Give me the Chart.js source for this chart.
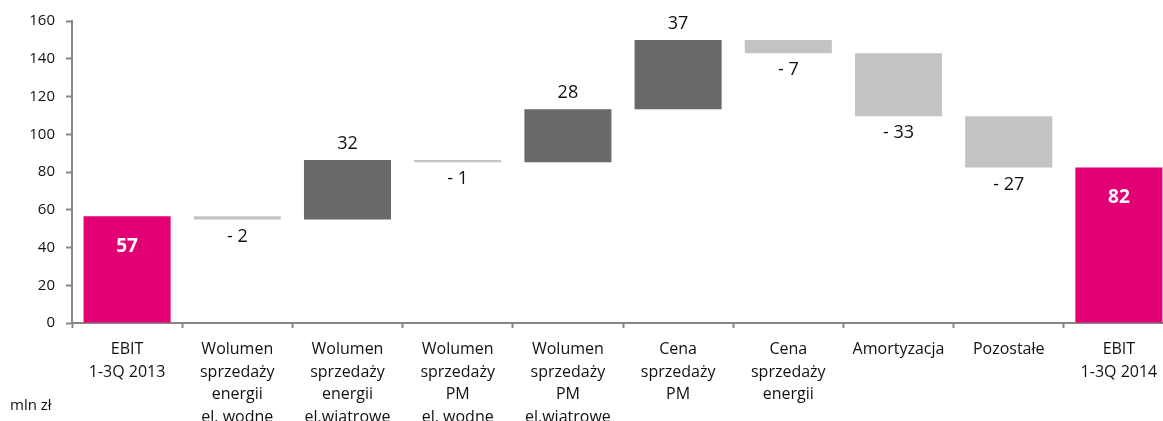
<!DOCTYPE html>
<html>
<head>
<meta charset="utf-8">
<script src="https://cdn.jsdelivr.net/npm/chart.js@4"></script>
<style>
  html, body { margin: 0; padding: 0; background: #fff; overflow: hidden; }
  #wrap { position: relative; width: 1163px; height: 421px; overflow: hidden; }
  #unit { position: absolute; left: 10px; top: 394px; font: 15px "Open Sans", sans-serif; color: #111; }
</style>
</head>
<body>
<div id="wrap">
  <canvas id="chart" width="1174" height="421"></canvas>
  <div id="unit">mln zł</div>
</div>
<script>
// ── DATA ──
const categories = [
  ['EBIT', '1-3Q 2013'],
  ['Wolumen', 'sprzedaży', 'energii', 'el. wodne'],
  ['Wolumen', 'sprzedaży', 'energii', 'el.wiatrowe'],
  ['Wolumen', 'sprzedaży', 'PM', 'el. wodne'],
  ['Wolumen', 'sprzedaży', 'PM', 'el.wiatrowe'],
  ['Cena', 'sprzedaży', 'PM'],
  ['Cena', 'sprzedaży', 'energii'],
  'Amortyzacja',
  'Pozostałe',
  ['EBIT', '1-3Q 2014']
];
// first and last are totals, the rest are changes
const deltas      = [56.6, -1.8, 31.5, -1.1, 28.0, 36.7, -7.0, -33.3, -27.2, 82.4];
const isTotal     = [true, false, false, false, false, false, false, false, false, true];
const valueLabels = ['57', '- 2', '32', '- 1', '28', '37', '- 7', '- 33', '- 27', '82'];
const yTicks      = [0, 20, 40, 60, 80, 100, 120, 140, 160];

const colors = {
  total: '#E20074',
  up:    '#696969',
  down:  '#C3C3C3',
  axis:  '#878787',
  text:  '#111111'
};
const FONT = '"Open Sans", sans-serif';

// build floating bars [low, high]
let level = 0;
const ranges = deltas.map((d, i) => {
  if (isTotal[i]) { level = d; return [0, d]; }
  const from = level;
  level += d;
  return [Math.min(from, level), Math.max(from, level)];
});
const barColors = deltas.map((d, i) => isTotal[i] ? colors.total : (d >= 0 ? colors.up : colors.down));

// ── VALUE LABELS ──
const valueLabelPlugin = {
  id: 'valueLabels',
  afterDatasetsDraw(chart) {
    const ctx = chart.ctx;
    const meta = chart.getDatasetMeta(0);
    ctx.save();
    ctx.textAlign = 'center';
    ctx.textBaseline = 'middle';
    meta.data.forEach((bar, i) => {
      const top = Math.min(bar.y, bar.base);
      const bottom = Math.max(bar.y, bar.base);
      if (isTotal[i]) {
        ctx.font = 'bold 19px ' + FONT;
        ctx.fillStyle = '#fff';
        ctx.fillText(valueLabels[i], bar.x, top + 30);
      } else if (deltas[i] >= 0) {
        ctx.font = '18px ' + FONT;
        ctx.fillStyle = colors.text;
        ctx.fillText(valueLabels[i], bar.x, top - 16);
      } else {
        ctx.font = '18px ' + FONT;
        ctx.fillStyle = colors.text;
        ctx.fillText(valueLabels[i], bar.x, bottom + 17);
      }
    });
    ctx.restore();
  }
};

new Chart(document.getElementById('chart'), {
  type: 'bar',
  data: {
    labels: categories,
    datasets: [{
      data: ranges,
      backgroundColor: barColors,
      borderWidth: 0,
      barPercentage: 0.79,
      categoryPercentage: 1
    }]
  },
  options: {
    responsive: false,
    animation: false,
    layout: { padding: { top: 21, right: 0, bottom: 0, left: 0 } },
    plugins: {
      legend: { display: false },
      tooltip: { enabled: false }
    },
    scales: {
      x: {
        offset: true,
        grid: {
          display: true,
          offset: true,
          drawOnChartArea: false,
          drawTicks: true,
          tickLength: 5,
          tickWidth: 2,
          tickColor: colors.axis
        },
        border: { color: colors.axis, width: 2 },
        ticks: {
          color: colors.text,
          padding: 10,
          maxRotation: 0,
          autoSkip: false,
          font: { family: FONT, size: 16, lineHeight: 1.42 }
        },
        afterFit: (s) => { s.height = 98; }
      },
      y: {
        min: 0,
        max: 160,
        afterBuildTicks: (s) => { s.ticks = yTicks.map(v => ({ value: v })); },
        grid: {
          display: true,
          drawOnChartArea: false,
          drawTicks: true,
          tickLength: 6,
          tickWidth: 2,
          tickColor: colors.axis
        },
        border: { color: colors.axis, width: 2 },
        ticks: {
          color: colors.text,
          padding: 11,
          font: { family: FONT, size: 15 }
        },
        afterFit: (s) => { s.width = 72; }
      }
    }
  },
  plugins: [valueLabelPlugin]
});
</script>
</body>
</html>
